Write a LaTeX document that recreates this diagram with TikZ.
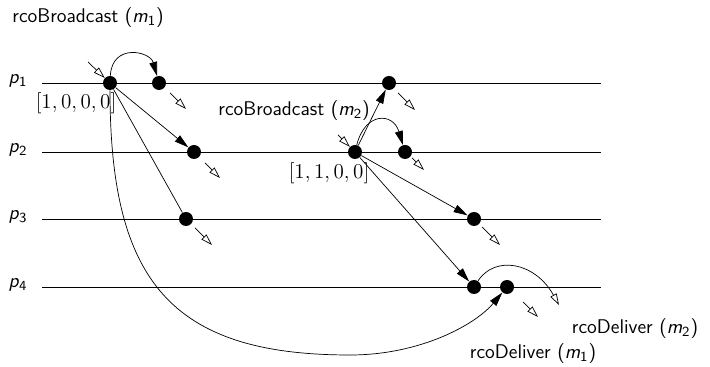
\documentclass[tikz,border=0pt]{standalone}
\usepackage{amsmath}
\usepackage{tikz}
\usetikzlibrary{positioning, arrows.meta}

\newcommand{\pname}[1]{\textit{p}$_{\textsf{#1}}$}
\newcommand{\mname}[1]{\textit{m}$_{\textsf{#1}}$}

\begin{document}
\begin{tikzpicture}[x=0.02cm, y=-0.02cm,
    font=\sffamily\fontsize{11.3}{13}\selectfont,
    event/.style={circle, fill, inner sep=0pt, minimum size=0.28cm},
    vclock/.style={font=\fontsize{12.5}{14}\selectfont},
    msg/.style={-{Triangle[length=8pt, width=4.5pt]}},
    hollow/.style={-{Triangle[open, length=6.5pt, width=4pt]}}]
    \useasboundingbox (0,0) rectangle (710,367);

    % Process lines
    \foreach \i/\y in {1/83, 2/152, 3/219, 4/287} {
        \node (p\i) at (18,\y-2) {\pname{\i}};
        \draw (42,\y) -- (601,\y);
    }

    % Events
    \node[event] (a) at (110,83) {};  % broadcast m1
    \node[event] (b) at (159,83) {};
    \node[event] (c) at (194,152) {};
    \node[event] (d) at (186,219) {};
    \node[event] (e) at (355,152) {}; % broadcast m2
    \node[event] (f) at (389,83) {};
    \node[event] (g) at (405,152) {};
    \node[event] (h) at (474,219) {};
    \node[event] (i) at (474,287) {};
    \node[event] (j) at (507,287) {};

    % Labels
    \node (bm1) at (88,18) {rcoBroadcast (\mname{1})};
    \node (bm2) at (294,111) {rcoBroadcast (\mname{2})};
    \node[vclock] (v1) at (76,103) {$[1,0,0,0]$};
    \node[vclock] (v2) at (329,173) {$[1,1,0,0]$};
    \node (dm2) at (635,329) {rcoDeliver (\mname{2})};
    \node (dm1) at (533,354) {rcoDeliver (\mname{1})};

    % Invocations
    \coordinate (ina) at (88,62);
    \coordinate (ine) at (338,135);
    \draw[hollow] (ina) -- (a);
    \draw[hollow] (ine) -- (e);

    % Messages m1
    \draw[msg] (a) .. controls +(2,-40) and +(-9,-32) .. (b);
    \draw[msg] (a) -- (c);
    \draw (a) -- (d);
    \draw[msg] (a) .. controls +(0,197) and +(-180,0) .. (350,355)
        .. controls +(70,0) and +(-32,38) .. (j);

    % Messages m2
    \draw[msg] (e) .. controls +(10,-40) and +(-12,-40) .. (g);
    \draw[msg] (e) -- (f);
    \draw[msg] (e) -- (h);
    \draw[msg] (e) -- (i);

    % Deliveries
    \foreach \n/\dx/\dy/\l in {b/11/10/16, c/11/11/15, d/9/9/17, f/9/10/17,
                               g/7/6/12, h/8/8/18, j/16/15/15} {
        \draw[hollow] ([shift={(\dx,\dy)}]\n.center) -- ++(\l,\l);
    }
    \coordinate (outi) at (559,305);
    \draw[hollow] (i) .. controls +(21,-32) and +(-24,-43) .. (outi);
\end{tikzpicture}
\end{document}
